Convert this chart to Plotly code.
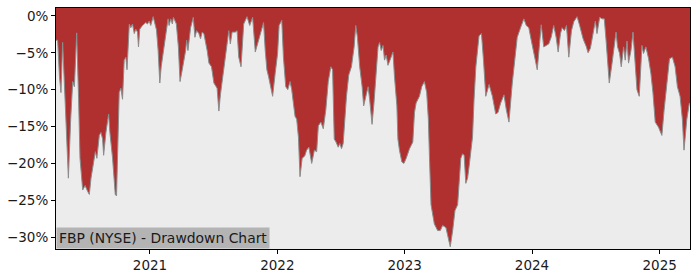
import pandas as pd
import plotly.graph_objects as go

# Decimal-year positions
years = [
 2020.264, 2020.277, 2020.291, 2020.303, 2020.316, 2020.330, 2020.342, 2020.361, 2020.379, 2020.395,
 2020.408, 2020.426, 2020.441, 2020.452, 2020.473, 2020.492, 2020.512, 2020.525, 2020.538, 2020.551,
 2020.572, 2020.584, 2020.603, 2020.616, 2020.629, 2020.637, 2020.655, 2020.676, 2020.686, 2020.707,
 2020.728, 2020.738, 2020.759, 2020.772, 2020.785, 2020.798, 2020.811, 2020.820, 2020.838, 2020.850,
 2020.863, 2020.877, 2020.889, 2020.902, 2020.910, 2020.920, 2020.941, 2020.967, 2020.980, 2020.994,
 2021.006, 2021.025, 2021.041, 2021.051, 2021.064, 2021.077, 2021.088, 2021.111, 2021.129, 2021.142,
 2021.150, 2021.163, 2021.176, 2021.184, 2021.197, 2021.207, 2021.223, 2021.236, 2021.246, 2021.267,
 2021.280, 2021.288, 2021.298, 2021.319, 2021.332, 2021.340, 2021.353, 2021.366, 2021.384, 2021.397,
 2021.410, 2021.423, 2021.449, 2021.463, 2021.483, 2021.502, 2021.527, 2021.541, 2021.553, 2021.580,
 2021.605, 2021.619, 2021.631, 2021.645, 2021.670, 2021.684, 2021.697, 2021.715, 2021.736, 2021.762,
 2021.783, 2021.806, 2021.827, 2021.853, 2021.879, 2021.892, 2021.905, 2021.918, 2021.931, 2021.949,
 2021.963, 2021.983, 2022.002, 2022.014, 2022.035, 2022.048, 2022.066, 2022.082, 2022.100, 2022.113,
 2022.139, 2022.152, 2022.166, 2022.178, 2022.195, 2022.215, 2022.230, 2022.248, 2022.270, 2022.291,
 2022.309, 2022.322, 2022.342, 2022.361, 2022.381, 2022.400, 2022.420, 2022.434, 2022.447, 2022.461,
 2022.478, 2022.491, 2022.504, 2022.517, 2022.530, 2022.543, 2022.561, 2022.582, 2022.603, 2022.616,
 2022.629, 2022.647, 2022.666, 2022.678, 2022.694, 2022.713, 2022.725, 2022.744, 2022.759, 2022.777,
 2022.791, 2022.803, 2022.816, 2022.830, 2022.842, 2022.855, 2022.869, 2022.889, 2022.908, 2022.920,
 2022.939, 2022.947, 2022.959, 2022.978, 2022.994, 2023.012, 2023.038, 2023.064, 2023.077, 2023.090,
 2023.116, 2023.134, 2023.155, 2023.173, 2023.186, 2023.194, 2023.207, 2023.233, 2023.259, 2023.280,
 2023.298, 2023.324, 2023.338, 2023.358, 2023.377, 2023.395, 2023.416, 2023.441, 2023.455, 2023.467,
 2023.480, 2023.494, 2023.506, 2023.533, 2023.545, 2023.559, 2023.584, 2023.603, 2023.619, 2023.637,
 2023.663, 2023.689, 2023.715, 2023.733, 2023.754, 2023.780, 2023.798, 2023.819, 2023.845, 2023.863,
 2023.884, 2023.910, 2023.936, 2023.955, 2023.975, 2023.994, 2024.020, 2024.041, 2024.059, 2024.072,
 2024.092, 2024.111, 2024.131, 2024.150, 2024.170, 2024.189, 2024.205, 2024.223, 2024.236, 2024.254,
 2024.270, 2024.288, 2024.309, 2024.327, 2024.353, 2024.373, 2024.400, 2024.426, 2024.439, 2024.457,
 2024.475, 2024.496, 2024.509, 2024.530, 2024.548, 2024.566, 2024.580, 2024.592, 2024.605, 2024.627,
 2024.645, 2024.658, 2024.670, 2024.686, 2024.699, 2024.717, 2024.730, 2024.744, 2024.756, 2024.775,
 2024.791, 2024.809, 2024.822, 2024.840, 2024.861, 2024.873, 2024.892, 2024.913, 2024.931, 2024.947,
 2024.965, 2024.991, 2025.017, 2025.035, 2025.056, 2025.077, 2025.100, 2025.121, 2025.139, 2025.160,
 2025.178, 2025.191, 2025.213, 2025.233, 2025.238,
]

# Drawdown in percent
drawdown = [
 -3.3, -3.3, -8.2, -10.4, -3.6, -9.6, -13.0, -22.0, -14.0, -8.9,
 -9.6, -2.3, -11.3, -19.3, -23.6, -23.0, -23.8, -24.2, -22.0, -20.7,
 -18.4, -19.3, -16.2, -15.8, -16.7, -18.9, -15.8, -13.3, -15.8, -19.3,
 -24.2, -24.4, -10.4, -9.8, -11.3, -6.0, -5.6, -7.3, -1.1, -1.6,
 -1.1, -2.4, -1.8, -2.2, -4.2, -1.8, -1.3, -0.9, -1.1, -0.7,
 -1.3, -0.1, -1.1, -1.9, -4.7, -9.1, -6.9, -4.2, -1.6, -0.4,
 -1.3, -0.4, -1.1, -0.2, -0.7, -1.1, -4.2, -8.9, -8.0, -6.2,
 -4.7, -3.3, -4.7, -1.6, -0.9, -0.2, -2.9, -2.0, -2.4, -3.1,
 -2.2, -2.4, -4.7, -6.4, -6.9, -9.1, -9.8, -12.9, -10.7, -6.9,
 -4.2, -2.0, -3.8, -2.2, -2.2, -2.0, -5.6, -6.9, -1.1, -0.1,
 -1.3, -0.2, -4.9, -3.3, -2.0, -0.9, -4.7, -7.3, -8.2, -10.0,
 -10.9, -7.8, -5.1, -1.3, -0.6, -5.6, -9.6, -10.0, -8.9, -10.0,
 -13.6, -14.0, -16.5, -21.8, -19.3, -19.0, -18.2, -17.8, -20.0, -18.2,
 -18.4, -14.9, -14.4, -15.3, -12.7, -8.9, -6.9, -7.3, -16.7, -17.1,
 -17.8, -17.3, -18.0, -17.3, -14.0, -10.9, -8.0, -6.9, -4.2, -1.3,
 -2.9, -6.9, -9.6, -12.2, -11.0, -9.6, -11.3, -14.7, -11.8, -6.9,
 -4.2, -3.6, -4.7, -4.0, -6.0, -5.3, -6.7, -5.8, -4.9, -8.2,
 -12.2, -16.7, -18.2, -19.8, -20.0, -19.3, -18.0, -17.1, -13.1, -11.8,
 -10.9, -9.6, -8.9, -10.4, -14.0, -18.7, -25.6, -28.2, -29.1, -29.1,
 -28.4, -28.7, -29.8, -31.3, -29.1, -26.4, -25.6, -19.3, -18.7, -18.9,
 -22.7, -22.0, -20.4, -16.4, -11.3, -6.9, -2.7, -2.4, -6.0, -10.9,
 -9.3, -10.9, -13.3, -13.1, -11.8, -10.7, -12.7, -14.4, -9.1, -6.4,
 -2.9, -1.6, -0.4, -1.3, -1.6, -3.3, -5.6, -7.3, -3.8, -1.2,
 -4.2, -4.0, -3.8, -2.9, -1.3, -2.9, -4.9, -2.4, -1.6, -2.0,
 -1.3, -5.6, -2.0, -0.8, -0.1, -1.3, -3.1, -4.2, -5.0, -4.4,
 -2.4, -0.7, -2.4, -0.2, -0.4, -0.4, -3.3, -6.9, -9.1, -6.4,
 -3.8, -2.2, -4.2, -5.1, -6.9, -4.2, -6.0, -3.4, -6.4, -4.7,
 -2.2, -6.9, -10.0, -10.9, -4.0, -5.1, -4.2, -5.8, -7.8, -10.4,
 -14.4, -15.1, -16.2, -12.7, -8.9, -5.8, -5.6, -6.9, -9.6, -10.9,
 -14.0, -18.2, -14.0, -11.8, -12.0,
]

y_ticks = [0, -5, -10, -15, -20, -25, -30]
y_tick_labels = ["0%", "\u22125%", "\u221210%", "\u221215%", "\u221220%", "\u221225%", "\u221230%"]
x_tick_years = [2021, 2022, 2023, 2024, 2025]
title_text = "FBP (NYSE) - Drawdown Chart"

Y_MIN, Y_MAX = -31.6, 1.07
RED = "#b03030"
GRAY_BG = "#ececec"


def to_date(y):
    yr = int(y)
    start = pd.Timestamp(year=yr, month=1, day=1)
    end = pd.Timestamp(year=yr + 1, month=1, day=1)
    return start + (end - start) * (y - yr)


dates = [to_date(v) for v in years]

fig = go.Figure()
# baseline at the top of the axis so the red fills from the curve upward
fig.add_trace(go.Scatter(
    x=dates, y=[Y_MAX] * len(dates), mode="lines",
    line=dict(width=0, color=RED), hoverinfo="skip", showlegend=False,
))
fig.add_trace(go.Scatter(
    x=dates, y=drawdown, mode="lines", fill="tonexty",
    fillcolor=RED, line=dict(color="#8c8c8c", width=1),
    hoverinfo="skip", showlegend=False,
))

font_family = "DejaVu Sans"
fig.update_layout(
    width=700, height=280,
    margin=dict(l=53, r=10, t=7, b=28),
    paper_bgcolor="white", plot_bgcolor=GRAY_BG,
    font=dict(family=font_family, size=13.5, color="#1a1a1a"),
    showlegend=False,
)
fig.update_xaxes(
    type="date",
    range=[dates[0], dates[-1]],
    tickvals=[pd.Timestamp(year=y, month=1, day=1) for y in x_tick_years],
    ticktext=[str(y) for y in x_tick_years],
    showgrid=False, zeroline=False,
    showline=True, linecolor="black", linewidth=1, mirror=True,
    ticks="outside", ticklen=4, tickcolor="black",
)
fig.update_yaxes(
    range=[Y_MIN, Y_MAX],
    tickvals=y_ticks, ticktext=y_tick_labels,
    showgrid=False, zeroline=False,
    showline=True, linecolor="black", linewidth=1, mirror=True,
    ticks="outside", ticklen=4, tickcolor="black",
)
fig.add_annotation(
    text=title_text, xref="paper", yref="paper", x=0, y=0,
    xanchor="left", yanchor="bottom", showarrow=False,
    bgcolor="#b4b4b4", font=dict(family=font_family, size=13.9, color="#1a1a1a"),
    borderpad=2,
)

fig.write_html("out.html")
